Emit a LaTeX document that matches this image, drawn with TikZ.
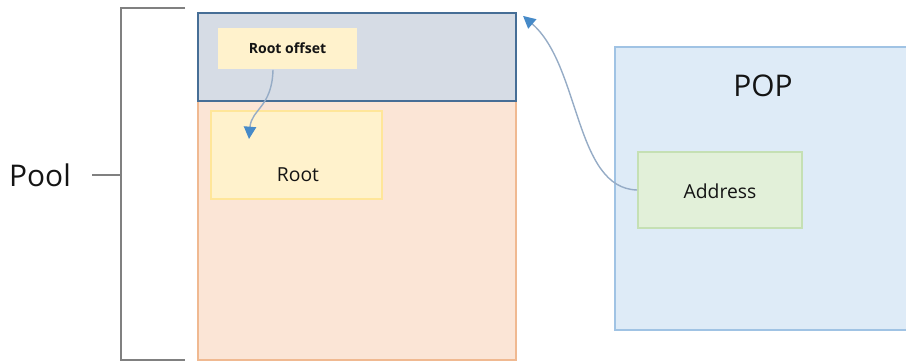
\documentclass[tikz,border=0pt]{standalone}
\usepackage{fontspec}
\setmainfont{Open Sans}
\usetikzlibrary{arrows.meta, positioning, calc}
\definecolor{hdrfill}{RGB}{214, 220, 229}
\definecolor{hdrline}{RGB}{70, 110, 150}
\definecolor{poolfill}{RGB}{251, 229, 214}
\definecolor{poolline}{RGB}{240, 185, 145}
\definecolor{rootfill}{RGB}{255, 242, 204}
\definecolor{rootline}{RGB}{255, 230, 153}
\definecolor{popfill}{RGB}{222, 235, 247}
\definecolor{popline}{RGB}{160, 195, 228}
\definecolor{addrfill}{RGB}{226, 240, 217}
\definecolor{addrline}{RGB}{197, 224, 180}
\definecolor{linkline}{RGB}{150, 172, 198}
\definecolor{tipblue}{RGB}{70, 138, 200}
\definecolor{txt}{RGB}{20, 20, 20}

\begin{document}
\begin{tikzpicture}[
    box/.style={rectangle, inner sep=0pt, line width=1pt},
    bigtext/.style={font=\fontsize{17}{20}\selectfont, text=txt},
    midtext/.style={font=\fontsize{11}{13}\selectfont, text=txt},
    link/.style={draw=linkline, line width=0.8pt,
                 -{Triangle[length=7pt, width=7pt, color=tipblue]}}]
    \useasboundingbox (0, 0) rectangle (18.12, 7.28);

    % Pool
    \node[box, fill=poolfill, draw=poolline, minimum width=6.36cm,
          minimum height=5.18cm] (pool) at (7.14, 2.67) {};
    \node[box, fill=hdrfill, draw=hdrline, line width=1.2pt, minimum width=6.36cm,
          minimum height=1.76cm] (header) at (7.14, 6.14) {};
    \node[box, fill=rootfill, minimum width=2.78cm, minimum height=0.82cm,
          font=\fontsize{8}{10}\selectfont\bfseries, text=txt] (rootoff) at (5.75, 6.31) {Root offset};
    \node[box, fill=rootfill, draw=rootline, minimum width=3.42cm,
          minimum height=1.76cm] (root) at (5.93, 4.18) {};
    \node[midtext] (rootlbl) at (5.96, 3.78) {Root};
    \coordinate (rootin) at (4.98, 4.50);

    % POP
    \node[box, fill=popfill, draw=popline, minimum width=6.02cm,
          minimum height=5.66cm] (pop) at (15.31, 3.51) {};
    \node[bigtext] (poplbl) at (15.26, 5.56) {POP};
    \node[box, fill=addrfill, draw=addrline, minimum width=3.28cm,
          minimum height=1.52cm] (addr) at (14.40, 3.48) {};
    \node[midtext] (addrlbl) at (14.40, 3.46) {Address};

    % Bracket
    \node[bigtext] (poollbl) at (0.80, 3.78) {Pool};
    \coordinate (btop) at (3.70, 7.12);
    \coordinate (bbot) at (3.70, 0.08);
    \coordinate (bmid) at (2.42, 3.78);
    \draw[gray, line width=0.9pt] (btop) -- ++(-1.28, 0) |- (bbot);
    \draw[gray, line width=0.9pt] ([xshift=0.3cm]poollbl.east) -- (bmid);

    % Connections
    \draw[link] ([xshift=-0.29cm]rootoff.south) .. controls +(-0.02, -0.75) and +(0.05, 0.6) .. (rootin);
    \draw[link] (addr.west) .. controls +(-1.25, 0.03) and +(1.15, -1.0)
        .. ([shift={(0.12, -0.08)}]header.north east);
\end{tikzpicture}
\end{document}
